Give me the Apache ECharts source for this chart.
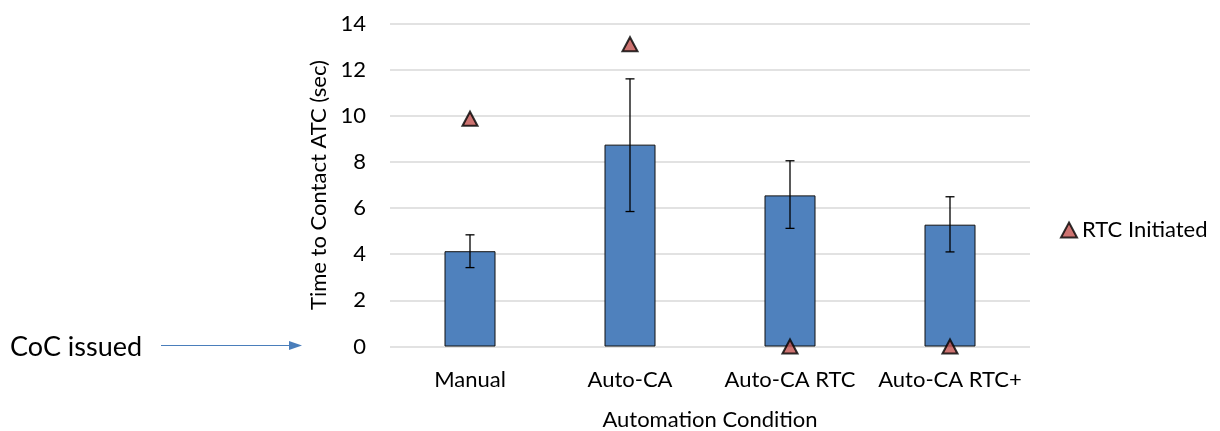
<!DOCTYPE html>
<html>
<head>
<meta charset="utf-8">
<script src="https://cdn.jsdelivr.net/npm/echarts@6/dist/echarts.min.js"></script>
<style>
  html, body { margin: 0; padding: 0; background: #fff; }
  #chart { width: 1220px; height: 431px; }
</style>
</head>
<body>
<div id="chart"></div>
<script>
// Time to contact ATC by automation condition
const categories = ['Manual', 'Auto-CA', 'Auto-CA RTC', 'Auto-CA RTC+'];
const meanTime = [4.13, 8.75, 6.55, 5.28];
const errLow = [3.42, 5.85, 5.12, 4.10];
const errHigh = [4.84, 11.6, 8.05, 6.49];
const rtcInitiated = [9.87, 13.1, 0, 0];
const yTicks = [0, 2, 4, 6, 8, 10, 12, 14];

const FONT = 'Lato, "Open Sans", "Noto Sans", sans-serif';
const FS = 22;
const chart = echarts.init(document.getElementById('chart'));

const errorData = categories.map((c, i) => [i, errLow[i], errHigh[i]]);

chart.setOption({
  animation: false,
  textStyle: { fontFamily: FONT },
  grid: {
    left: 390, right: 190, top: 23.5, bottom: 84.5,
    containLabel: false, outerBoundsMode: 'none'
  },
  legend: {
    left: 1055, top: 214,
    itemWidth: 16, itemHeight: 15,
    textStyle: { fontSize: FS, color: '#000', fontFamily: FONT },
    itemGap: 5,
    data: [{ name: 'RTC Initiated', icon: 'triangle' }]
  },
  xAxis: {
    type: 'category',
    data: categories,
    name: 'Automation Condition',
    nameLocation: 'middle',
    nameGap: 62,
    nameTextStyle: { fontSize: FS, color: '#000', fontFamily: FONT },
    axisLine: { show: false },
    axisTick: { show: false },
    axisLabel: { fontSize: FS, color: '#000', margin: 22, interval: 0, fontFamily: FONT }
  },
  yAxis: {
    type: 'value',
    min: yTicks[0],
    max: yTicks[yTicks.length - 1],
    interval: 2,
    name: 'Time to Contact ATC (sec)',
    nameLocation: 'middle',
    nameGap: 60,
    nameTextStyle: { fontSize: FS, color: '#000', fontFamily: FONT },
    axisLine: { show: false },
    axisTick: { show: false },
    axisLabel: { fontSize: FS, color: '#000', margin: 24, fontFamily: FONT },
    splitLine: { lineStyle: { color: '#d9d9d9', width: 1.5 } }
  },
  series: [
    {
      name: 'Mean',
      type: 'bar',
      data: meanTime,
      barWidth: 51,
      itemStyle: { color: '#4f81bd', borderColor: '#111', borderWidth: 1 },
      z: 2
    },
    {
      name: 'Error',
      type: 'custom',
      data: errorData,
      z: 3,
      renderItem: function (params, api) {
        const x = api.value(0);
        const lo = api.coord([x, api.value(1)]);
        const hi = api.coord([x, api.value(2)]);
        const cap = 4.5;
        const style = { stroke: '#000', lineWidth: 1.3 };
        return {
          type: 'group',
          children: [
            { type: 'line', shape: { x1: hi[0], y1: hi[1], x2: lo[0], y2: lo[1] }, style },
            { type: 'line', shape: { x1: hi[0] - cap, y1: hi[1], x2: hi[0] + cap, y2: hi[1] }, style },
            { type: 'line', shape: { x1: lo[0] - cap, y1: lo[1], x2: lo[0] + cap, y2: lo[1] }, style }
          ]
        };
      }
    },
    {
      name: 'RTC Initiated',
      type: 'scatter',
      data: rtcInitiated,
      symbol: 'triangle',
      symbolSize: [15, 14],
      clip: false,
      itemStyle: { color: '#c0504d', borderColor: '#000', borderWidth: 2 },
      z: 5
    }
  ]
});

// Annotation pointing at the zero level of the value axis
const zeroY = chart.convertToPixel({ yAxisIndex: 0 }, 0);
chart.setOption({
  graphic: [
    {
      type: 'text', left: 10, top: zeroY - 13,
      style: { text: 'CoC issued', font: '27px ' + FONT, fill: '#000' }
    },
    {
      type: 'line',
      shape: { x1: 161, y1: zeroY - 1, x2: 292, y2: zeroY - 1 },
      style: { stroke: '#4a7ebb', lineWidth: 1.2 }
    },
    {
      type: 'polygon',
      shape: { points: [[289, zeroY - 5.5], [302, zeroY - 1], [289, zeroY + 3.5]] },
      style: { fill: '#4a7ebb' }
    }
  ]
});
</script>
</body>
</html>
